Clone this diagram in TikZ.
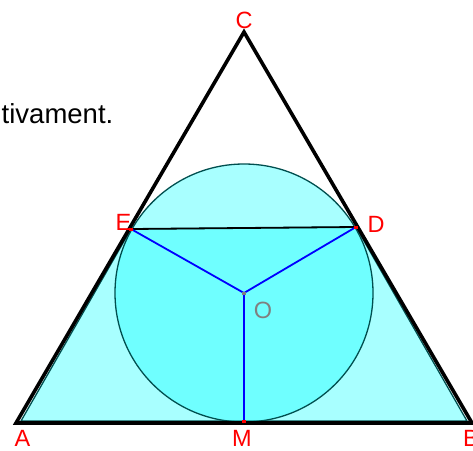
\documentclass[tikz,border=0pt]{standalone}
\usepackage{fontspec}
\setmainfont{Liberation Sans}
\definecolor{cyn}{rgb}{0,1,1}
\definecolor{tealb}{rgb}{0,0.31,0.31}
\begin{document}
\begin{tikzpicture}[x=1pt,y=-1pt,
  lab/.style={text=red,font=\fontsize{23.5}{24}\selectfont,inner sep=0pt},
  fillsh/.style={fill=cyn,fill opacity=0.34,draw=tealb,line width=1.3pt},
  bluel/.style={draw=blue,line width=1.8pt},
  mk/.style={fill=red,minimum width=4pt,minimum height=3pt,inner sep=0pt,draw=none}]
\useasboundingbox (0,0) rectangle (473,450);
\coordinate (A) at (16,423);
\coordinate (B) at (472,423);
\coordinate (C) at (244,32);
\coordinate (E) at (131,229);
\coordinate (D) at (356,227);
\coordinate (O) at (244,293);
\coordinate (M) at (244,421);
\coordinate (A2) at (21,421);
\coordinate (B2) at (467,421);
% trapezoid
\path[fillsh,line join=miter] (A2) -- (B2) -- (D) -- (E) -- cycle;
% circle
\path[fillsh] (O) circle[radius=129];
% triangle
\draw[line width=3.6pt,line join=miter] (A) -- (B) -- (C) -- cycle;
% ED
\draw[line width=1.8pt] (E) -- (D);
% radii
\draw[bluel] (O) -- (E);
\draw[bluel] (O) -- (D);
\draw[bluel] (O) -- (M);
% markers
\node[mk] (mE) at (E) {};
\node[mk] (mD) at (D) {};
\node[mk] (mM) at (M) {};
\node[mk,fill=gray] (mO) at (O) {};
% labels
\node[lab] (lC) at (244,20) {C};
\node[lab] (lE) at (123.5,222) {E};
\node[lab] (lD) at (376,224) {D};
\node[lab,text=gray] (lO) at (263,310) {O};
\node[lab] (lA) at (22.5,438) {A};
\node[lab] (lM) at (242,438) {M};
\node[lab] (lB) at (471,438) {B};
% text
\node[anchor=base east,inner sep=0pt,font=\fontsize{27.5}{28}\selectfont] (txt) at (113.5,123) {tivament.};
\end{tikzpicture}
\end{document}
